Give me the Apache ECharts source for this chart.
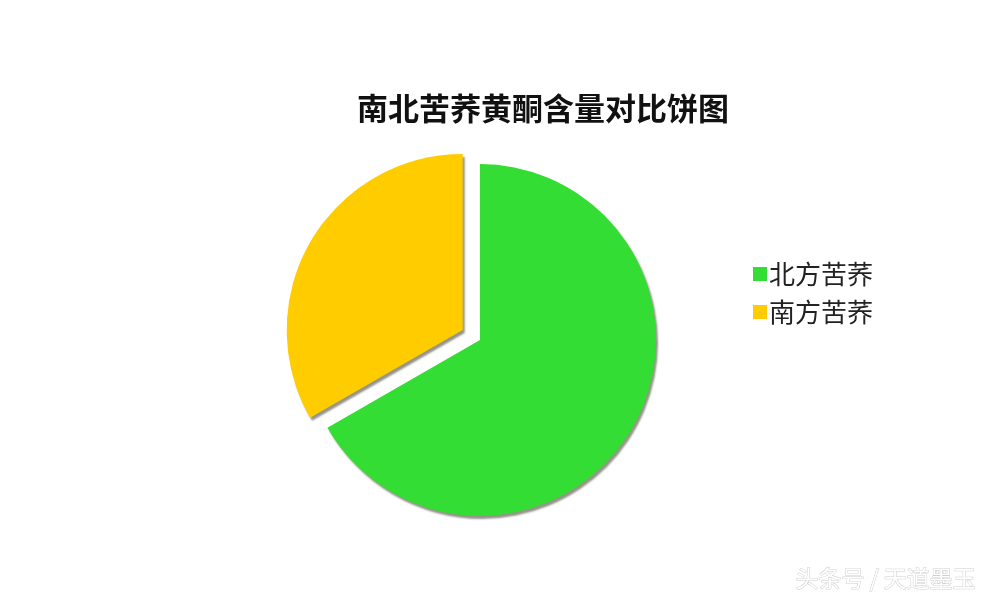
<!DOCTYPE html>
<html>
<head>
<meta charset="utf-8">
<script src="https://cdn.jsdelivr.net/npm/echarts@6/dist/echarts.min.js"></script>
<style>
html,body{margin:0;padding:0;background:#fff;}
#chart{width:990px;height:600px;}
</style>
</head>
<body>
<div id="chart"></div>
<script>
var titleText = '南北苦荞黄酮含量对比饼图';
var categories = ['北方苦荞', '南方苦荞'];
var values = [66.7, 33.3];
var colors = ['#33DD33', '#FFCC00'];
var explodedIndex = 1;
var watermark = '头条号 / 天道墨玉';

var chart = echarts.init(document.getElementById('chart'));
var pieData = categories.map(function (name, i) {
  return {
    name: name,
    value: values[i],
    selected: i === explodedIndex,
    itemStyle: { color: colors[i] }
  };
});
chart.setOption({
  backgroundColor: '#ffffff',
  animation: false,
  title: {
    text: titleText,
    left: 538,
    textAlign: 'center',
    top: 88,
    textStyle: {
      fontFamily: 'Noto Sans CJK SC',
      fontWeight: 'bold',
      fontSize: 31,
      color: '#111'
    }
  },
  legend: {
    orient: 'vertical',
    left: 748,
    top: 255,
    icon: 'rect',
    itemWidth: 14,
    itemHeight: 14,
    itemGap: 10,
    selectedMode: false,
    data: categories,
    textStyle: {
      fontFamily: 'Noto Sans CJK SC',
      fontSize: 26,
      lineHeight: 28,
      color: '#222',
      padding: [0, 0, 0, -3]
    }
  },
  series: [{
    type: 'pie',
    center: [480, 340],
    radius: 176,
    startAngle: 90,
    clockwise: true,
    selectedMode: 'single',
    selectedOffset: 20,
    label: { show: false },
    labelLine: { show: false },
    emphasis: { disabled: true },
    itemStyle: {
      shadowColor: 'rgba(60,60,40,0.55)',
      shadowBlur: 2,
      shadowOffsetX: 2,
      shadowOffsetY: 3
    },
    data: pieData
  }],
  graphic: [{
    type: 'text',
    left: 795,
    top: 566,
    style: {
      text: watermark,
      fill: '#ffffff',
      stroke: '#cfcfcf',
      lineWidth: 1,
      font: '23px "Noto Sans CJK SC"'
    }
  }]
});
</script>
</body>
</html>
